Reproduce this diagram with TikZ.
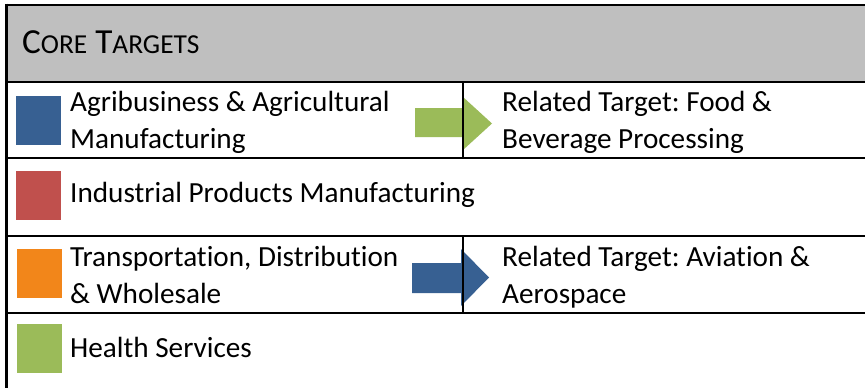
\documentclass[tikz,border=0pt]{standalone}
\usepackage{fontspec}
\setmainfont{Carlito}[Ligatures=NoCommon]
\usetikzlibrary{positioning}
\frenchspacing

\definecolor{hdrgray}{HTML}{BFBFBF}
\definecolor{tgtblue}{HTML}{376092}
\definecolor{tgtred}{HTML}{C0504D}
\definecolor{tgtorange}{HTML}{F2861A}
\definecolor{tgtgreen}{HTML}{9BBB59}

% small capitals for the header
\newcommand{\tgtsc}[1]{{\fontsize{27.4}{27.4}\selectfont #1}}

\begin{document}
\begin{tikzpicture}[x=1pt,y=-1pt,
    rule/.style={line width=2.6pt},
    divider/.style={line width=2pt},
    swatch/.style={minimum width=45pt,minimum height=49pt,inner sep=0pt,anchor=north west},
    rowtext/.style={anchor=base west,inner sep=0pt,align=left,font=\fontsize{29.2}{37}\selectfont}]
    \useasboundingbox (0,0) rectangle (865,388);

    % header band
    \fill[hdrgray] (6.5,5) rectangle (865,82);
    \node[anchor=base west,inner sep=0pt] (hdr) at (22,53)
        {\fontsize{35.2}{35.2}\selectfont C\tgtsc{ORE} T\tgtsc{ARGETS}};

    % colour swatches
    \node[swatch,fill=tgtblue] (sqAgri) at (16,96) {};
    \node[swatch,fill=tgtred] (sqInd) at (16,171) {};
    \node[swatch,fill=tgtorange] (sqTrans) at (17,249) {};
    \node[swatch,fill=tgtgreen] (sqHealth) at (17,324) {};

    % target names (base = last line)
    \node[rowtext] (txtAgri) at (70,148) {Agribusiness \& Agricultural\\Manufacturing};
    \node[rowtext] (txtInd) at (70,202) {Industrial Products Manufacturing};
    \node[rowtext] (txtTrans) at (70,303) {Transportation, Distribution\\\& Wholesale};
    \node[rowtext] (txtHealth) at (70,357) {Health Services};

    \node[rowtext] (relFood) at (502,148) {Related Target: Food \&\\Beverage Processing};
    \node[rowtext] (relAero) at (502,303) {Related Target: Aviation \&\\Aerospace};

    % block arrows
    \fill[tgtgreen] (415,108) -- (463,108) -- (463,97) -- (492,123.5)
        -- (463,150) -- (463,137) -- (415,137) -- cycle;
    \fill[tgtblue] (412,263) -- (461,263) -- (461,249) -- (489,277.5)
        -- (461,306) -- (461,293) -- (412,293) -- cycle;

    % table rules
    \draw[rule] (5.2,5) -- (865,5);
    \draw[rule] (6.5,3.7) -- (6.5,388);
    \foreach \y in {82,158,236,313}
        \draw[rule] (6.5,\y) -- (865,\y);
    \draw[divider] (463,82) -- (463,158);
    \draw[divider] (463,236) -- (463,313);
\end{tikzpicture}
\end{document}
